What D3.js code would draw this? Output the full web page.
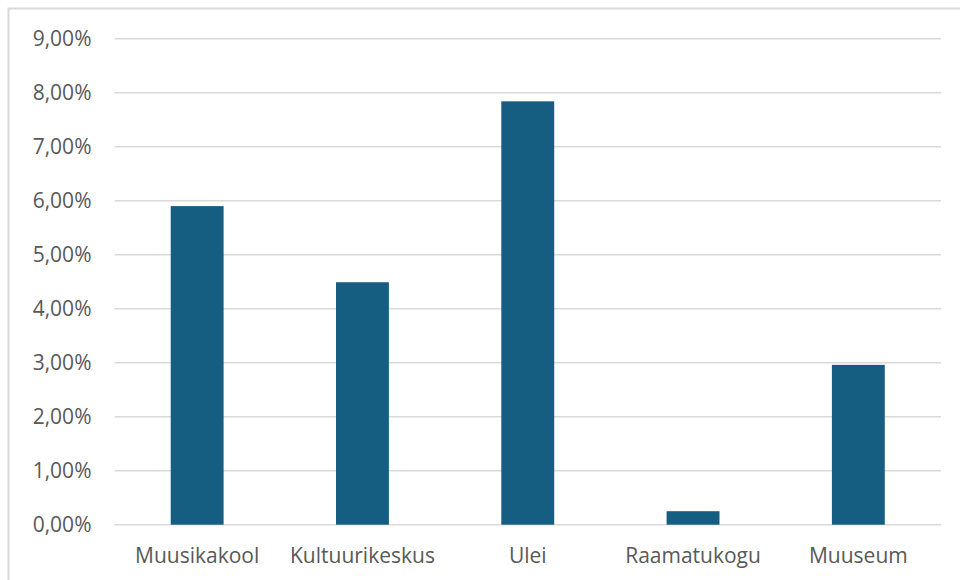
<!DOCTYPE html>
<html>
<head>
<meta charset="utf-8">
<script src="https://cdn.jsdelivr.net/npm/d3@7"></script>
<style>
    body { margin: 0; background: #fff; }
    #chart { width: 960px; height: 580px; }
    text { font-family: "Open Sans", "Noto Sans", sans-serif; fill: #595959; }
</style>
</head>
<body>
<div id="chart"></div>
<script>
// data
const categories = ["Muusikakool", "Kultuurikeskus", "Ulei", "Raamatukogu", "Muuseum"];
const values = [0.0590, 0.0449, 0.0784, 0.0025, 0.0296];
const yTicks = [0, 0.01, 0.02, 0.03, 0.04, 0.05, 0.06, 0.07, 0.08, 0.09];

const margin = {top: 38.7, right: 19, bottom: 55.3, left: 114.5};
const W = 960, H = 580;
const width = W - margin.left - margin.right;
const height = H - margin.top - margin.bottom;

const svg = d3.select("#chart").append("svg")
    .attr("width", W)
    .attr("height", H);

// outer frame (only left and top edges visible)
svg.append("path")
    .attr("d", `M8.5,${H} V8.5 H${W}`)
    .attr("fill", "none")
    .attr("stroke", "#d9d9d9")
    .attr("stroke-width", 2);

const g = svg.append("g")
    .attr("transform", `translate(${margin.left},${margin.top})`);

const x = d3.scaleBand()
    .domain(categories)
    .range([0, width])
    .paddingInner(0.68)
    .paddingOuter(0.34);

const y = d3.scaleLinear()
    .domain([0, 0.09])
    .range([height, 0]);

const fmt = d => d3.format(".2f")(d * 100).replace(".", ",") + "%";

// gridlines
g.selectAll(".grid")
    .data(yTicks)
    .enter()
    .append("line")
    .attr("x1", 0)
    .attr("x2", width)
    .attr("y1", d => y(d))
    .attr("y2", d => y(d))
    .attr("stroke", "#d9d9d9")
    .attr("stroke-width", 1.5);

// y labels
g.selectAll(".ylab")
    .data(yTicks)
    .enter()
    .append("text")
    .attr("x", -23)
    .attr("y", d => y(d))
    .attr("dy", "0.35em")
    .attr("text-anchor", "end")
    .style("font-size", "21px")
    .text(fmt);

// bars
g.selectAll("rect")
    .data(values)
    .enter()
    .append("rect")
    .attr("x", (d, i) => x(categories[i]))
    .attr("width", x.bandwidth())
    .attr("y", d => y(d))
    .attr("height", d => height - y(d))
    .attr("fill", "#165e81");

// category labels
g.selectAll(".xlab")
    .data(categories)
    .enter()
    .append("text")
    .attr("x", d => x(d) + x.bandwidth() / 2)
    .attr("y", height + 38.5)
    .attr("text-anchor", "middle")
    .style("font-size", "21px")
    .text(d => d);
</script>
</body>
</html>
